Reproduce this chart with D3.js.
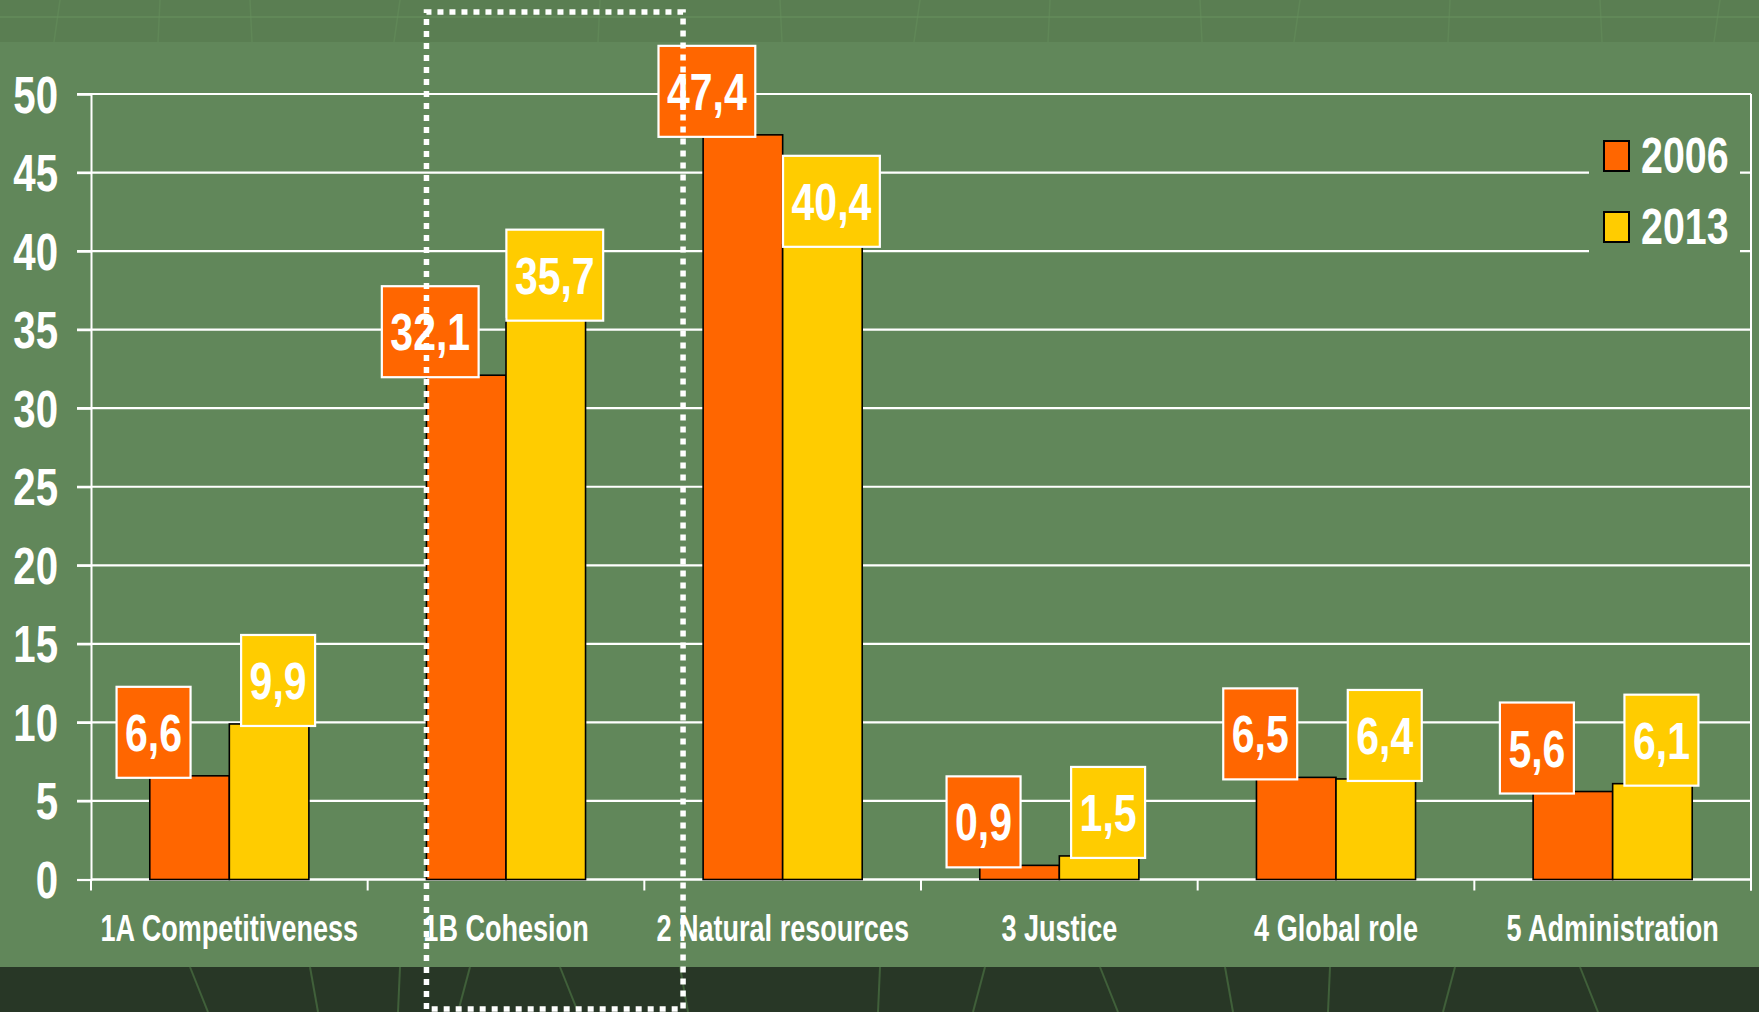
<!DOCTYPE html>
<html>
<head>
<meta charset="utf-8">
<script src="https://cdn.jsdelivr.net/npm/d3@7"></script>
<style>
  body { margin: 0; background: #61875a; }
  svg { display: block; }
  text { font-family: "Liberation Sans", Arial, sans-serif; font-weight: bold; fill: #fff; }
</style>
</head>
<body>
<div id="chart"></div>
<script>
var categories = ["1A Competitiveness", "1B Cohesion", "2 Natural resources", "3 Justice", "4 Global role", "5 Administration"];
var seriesNames = ["2006", "2013"];
var values2006 = [6.6, 32.1, 47.4, 0.9, 6.5, 5.6];
var values2013 = [9.9, 35.7, 40.4, 1.5, 6.4, 6.1];
var yTicks = [0, 5, 10, 15, 20, 25, 30, 35, 40, 45, 50];
var colors = ["#ff6600", "#ffcc00"];

var width = 1759, height = 1012;
var plot = {left: 91, right: 1751, top: 94, bottom: 879.5};
// narrow look: Arial Narrow is not installed, so squeeze Liberation Sans
var squeeze = "scale(0.82,1.04)";

var svg = d3.select("#chart").append("svg")
  .attr("width", width)
  .attr("height", height);

// background bands
svg.append("rect").attr("width", width).attr("height", height).attr("fill", "#61875a");
svg.append("rect").attr("width", width).attr("height", 42).attr("fill", "#5a7e52");
svg.append("line").attr("x1", 0).attr("x2", width).attr("y1", 17).attr("y2", 17)
  .attr("stroke", "#66905d").attr("stroke-width", 2).attr("opacity", 0.6);
[60, 160, 250, 400, 600, 780, 920, 1050, 1200, 1300, 1450, 1600, 1720].forEach(function(x, i) {
  svg.append("line").attr("x1", x).attr("x2", x - 6 + (i % 3) * 4).attr("y1", 0).attr("y2", 42)
    .attr("stroke", "#66905d").attr("stroke-width", 1.5).attr("opacity", 0.5);
});
svg.append("rect").attr("y", 967).attr("width", width).attr("height", height - 967).attr("fill", "#283726");
[190, 310, 400, 470, 560, 680, 880, 985, 1100, 1225, 1330, 1455, 1580].forEach(function(x, i) {
  svg.append("line").attr("x1", x).attr("x2", x + 18 - (i % 4) * 10).attr("y1", 967).attr("y2", 1012)
    .attr("stroke", "#40603a").attr("stroke-width", 2);
});

// scales
var x0 = d3.scaleBand().domain(categories).range([plot.left, plot.right]).padding(0);
var step = x0.bandwidth();
var x1 = d3.scaleBand().domain(seriesNames).range([step * 0.2125, step * 0.7875]).padding(0);
var y = d3.scaleLinear().domain([0, 50]).range([plot.bottom, plot.top]);

// gridlines
svg.append("g").selectAll("line").data(yTicks.slice(1)).enter().append("line")
  .attr("x1", plot.left - 14).attr("x2", plot.right)
  .attr("y1", function(d) { return y(d); }).attr("y2", function(d) { return y(d); })
  .attr("stroke", "#fff").attr("stroke-width", 2.2);

// y axis
var yAxis = svg.append("g").attr("transform", "translate(" + plot.left + ",0)")
  .call(d3.axisLeft(y).tickValues(yTicks).tickSize(14));
yAxis.select(".domain").attr("stroke", "#fff").attr("stroke-width", 2);
yAxis.selectAll(".tick line").attr("stroke", "#fff").attr("stroke-width", 2.2);
yAxis.selectAll(".tick text").remove();
yAxis.selectAll(".tick").append("text")
  .attr("transform", "translate(-33,18) " + squeeze)
  .attr("text-anchor", "end")
  .attr("font-size", 49)
  .text(function(d) { return d; });

// x axis
var xAxis = svg.append("g").attr("transform", "translate(0," + plot.bottom + ")");
xAxis.append("line").attr("x1", plot.left).attr("x2", plot.right).attr("stroke", "#fff").attr("stroke-width", 2.5);
var tickXs = categories.map(function(c) { return x0(c); }).concat([plot.right]);
xAxis.selectAll(".xt").data(tickXs).enter().append("line")
  .attr("x1", function(d) { return d; }).attr("x2", function(d) { return d; })
  .attr("y1", 0).attr("y2", 11).attr("stroke", "#fff").attr("stroke-width", 2);
xAxis.selectAll("text").data(categories).enter().append("text")
  .attr("transform", function(d) { return "translate(" + (x0(d) + step / 2) + ",61) scale(0.82,1.1)"; })
  .attr("text-anchor", "middle")
  .attr("font-size", 33)
  .text(function(d) { return d; });

// right border
svg.append("line").attr("x1", plot.right).attr("x2", plot.right)
  .attr("y1", plot.top).attr("y2", plot.bottom + 11)
  .attr("stroke", "#fff").attr("stroke-width", 2);

// bars
var rows = categories.map(function(c, i) {
  return {cat: c, vals: [{s: seriesNames[0], v: values2006[i], k: 0}, {s: seriesNames[1], v: values2013[i], k: 1}]};
});
var groups = svg.append("g").selectAll("g").data(rows).enter().append("g")
  .attr("transform", function(d) { return "translate(" + x0(d.cat) + ",0)"; });
groups.selectAll("rect").data(function(d) { return d.vals; }).enter().append("rect")
  .attr("x", function(d) { return x1(d.s); })
  .attr("y", function(d) { return y(d.v); })
  .attr("width", x1.bandwidth())
  .attr("height", function(d) { return y(0) - y(d.v); })
  .attr("fill", function(d) { return colors[d.k]; })
  .attr("stroke", "#000")
  .attr("stroke-width", 1.6);

// legend
var legend = svg.append("g");
legend.append("rect").attr("x", 1589).attr("y", 112).attr("width", 151).attr("height", 152).attr("fill", "#61875a");
var li = legend.selectAll("g").data(seriesNames).enter().append("g")
  .attr("transform", function(d, i) { return "translate(1604," + (141 + i * 71) + ")"; });
li.append("rect").attr("width", 25).attr("height", 30)
  .attr("fill", function(d, i) { return colors[i]; })
  .attr("stroke", "#000").attr("stroke-width", 2);
li.append("text").attr("transform", "translate(37,32) " + squeeze)
  .attr("font-size", 48).text(function(d) { return d; });

// value labels
var fmt = function(v) { return d3.format(".1f")(v).replace(".", ","); };
var labelShift = [-36, 9];
var labels = groups.selectAll(".lab").data(function(d) { return d.vals; }).enter().append("g")
  .attr("class", "lab")
  .attr("transform", function(d) {
    return "translate(" + (x1(d.s) + x1.bandwidth() / 2 + labelShift[d.k]) + "," + (y(d.v) + 2) + ")";
  });
labels.append("rect").attr("fill", function(d) { return colors[d.k]; })
  .attr("stroke", "#fff").attr("stroke-width", 2.2);
labels.append("text").attr("text-anchor", "middle").attr("font-size", 50)
  .attr("transform", "translate(0,-27) " + squeeze)
  .text(function(d) { return fmt(d.v); });
labels.each(function() {
  var g = d3.select(this);
  var w = g.select("text").node().getComputedTextLength() * 0.82 + 17;
  g.select("rect").attr("x", -w / 2).attr("y", -91).attr("width", w).attr("height", 91);
});

// dotted highlight around 1B Cohesion
var hx = x0(categories[1]) + step * 0.2125;
var hx2 = x0(categories[1]) + step * 1.14;
svg.append("path")
  .attr("d", "M" + hx + ",1009 L" + hx + ",12 L" + hx2 + ",12 L" + hx2 + ",1009 Z")
  .attr("fill", "none")
  .attr("stroke", "#fff")
  .attr("stroke-width", 5.5)
  .attr("stroke-dasharray", "6,6");
</script>
</body>
</html>
